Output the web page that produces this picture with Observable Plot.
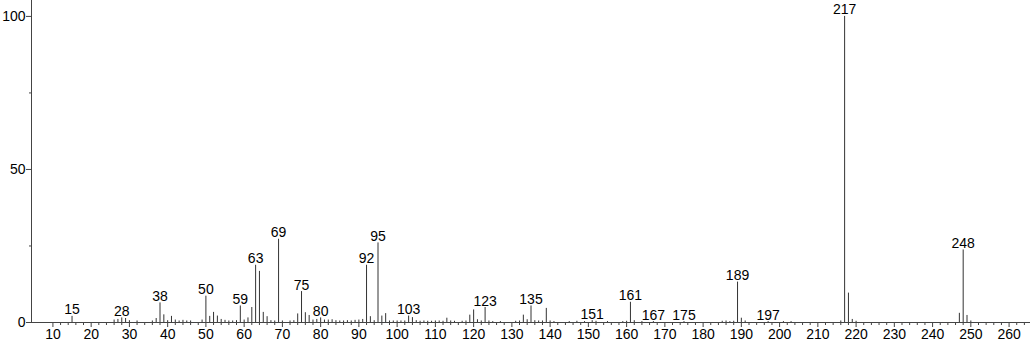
<!DOCTYPE html>
<html>
<head>
<meta charset="utf-8">
<script src="https://cdn.jsdelivr.net/npm/d3@7"></script>
<script src="https://cdn.jsdelivr.net/npm/@observablehq/plot@0.6"></script>
<style>
  html, body { margin: 0; padding: 0; background: #fff; }
  svg { display: block; font-family: "Liberation Sans", Arial, sans-serif; }
</style>
</head>
<body>
<div id="chart"></div>
<script>
// m/z values and relative intensities (%)
const mz = [15,26,27,28,29,30,32,36,37,38,39,40,41,42,43,44,45,46,49,50,51,52,53,54,55,56,57,58,59,60,61,62,63,64,65,66,67,68,69,70,72,73,74,75,76,77,78,79,80,81,82,83,84,85,86,87,88,89,90,91,92,93,94,95,96,97,98,99,100,101,102,103,104,105,106,107,108,109,110,111,112,113,114,115,117,118,119,120,121,122,123,124,125,127,131,132,133,134,135,136,137,138,139,140,141,145,147,149,151,152,155,159,160,161,162,164,167,175,185,186,187,188,189,190,191,197,201,203,216,217,218,219,220,247,248,249,250];
const intensity = [2.0,0.8,1.0,1.5,1.3,0.6,0.5,0.5,1.3,6.4,2.5,0.6,2.0,0.8,0.5,0.7,0.5,0.5,0.8,8.6,2.0,3.3,2.1,1.0,0.7,0.5,0.5,0.6,5.4,0.8,1.5,4.9,18.7,16.7,3.3,1.9,0.6,0.5,27.2,0.5,0.5,0.6,2.8,10.1,3.2,2.3,0.8,1.0,1.5,0.8,0.8,0.9,0.6,0.5,0.5,0.6,0.5,0.7,0.8,1.0,18.7,1.9,0.6,26.0,2.1,2.9,0.5,0.5,0.5,0.5,0.5,2.1,1.6,0.6,0.4,0.5,0.4,0.4,0.5,0.5,0.4,1.4,0.5,0.4,0.4,0.5,2.4,4.1,0.9,0.5,4.9,0.5,0.3,0.3,0.4,0.5,2.4,0.9,5.4,0.6,0.5,0.5,4.6,0.5,0.3,0.3,0.4,0.3,0.6,0.4,0.3,0.3,0.4,6.6,0.6,0.3,0.3,0.3,0.4,0.5,0.3,0.4,13.2,1.4,0.5,0.3,0.3,0.3,0.5,100,9.6,1.0,0.4,3.0,23.7,2.3,0.5];
const labeledPeaks = [15,28,38,50,59,63,69,75,80,92,95,103,123,135,151,161,167,175,189,197,217,248];
const xMajorTicks = d3.range(10, 261, 10);
const xMinorTicks = d3.range(12, 265, 2).filter(d => d % 10 !== 0);
const yMajorTicks = [0, 50, 100];
const yMinorTicks = [25, 75];

const peaks = mz.map((m, i) => ({mz: m, i: intensity[i]}));
const labels = peaks.filter(d => labeledPeaks.includes(d.mz));

const xDomain = [4.4, 265.6];
const axisColor = "#444";
const fs = 14;

const chart = Plot.plot({
  width: 1032,
  height: 346,
  marginLeft: 31,
  marginRight: 2,
  marginTop: 0,
  marginBottom: 24,
  style: {fontFamily: "Liberation Sans, Arial, sans-serif", fontSize: fs + "px", color: "#000", background: "#fff"},
  x: {domain: xDomain, axis: null},
  y: {domain: [0, 105.2], axis: null},
  marks: [
    Plot.ruleX(peaks, {x: "mz", y1: 0, y2: "i", stroke: "#333", strokeWidth: 1}),
    Plot.text(labels, {x: "mz", y: "i", text: d => String(d.mz), lineAnchor: "bottom", dy: -2, fontSize: fs, fill: "#000"}),
    Plot.axisX({ticks: xMinorTicks, tickSize: 3, tickFormat: () => "", label: null, stroke: axisColor}),
    Plot.axisX({ticks: xMajorTicks, tickSize: 5, tickPadding: 2, tickFormat: d => String(d), label: null, fontSize: fs, stroke: axisColor, fill: "#000"}),
    Plot.axisY({ticks: yMinorTicks, tickSize: 2, tickFormat: () => "", label: null, stroke: axisColor}),
    Plot.axisY({ticks: yMajorTicks, tickSize: 5, tickPadding: 1, tickFormat: d => String(d), label: null, fontSize: fs, stroke: axisColor, fill: "#000"}),
    Plot.ruleY([0], {stroke: axisColor}),
    Plot.ruleX([xDomain[0]], {stroke: axisColor})
  ]
});
document.getElementById("chart").appendChild(chart);
</script>
</body>
</html>
